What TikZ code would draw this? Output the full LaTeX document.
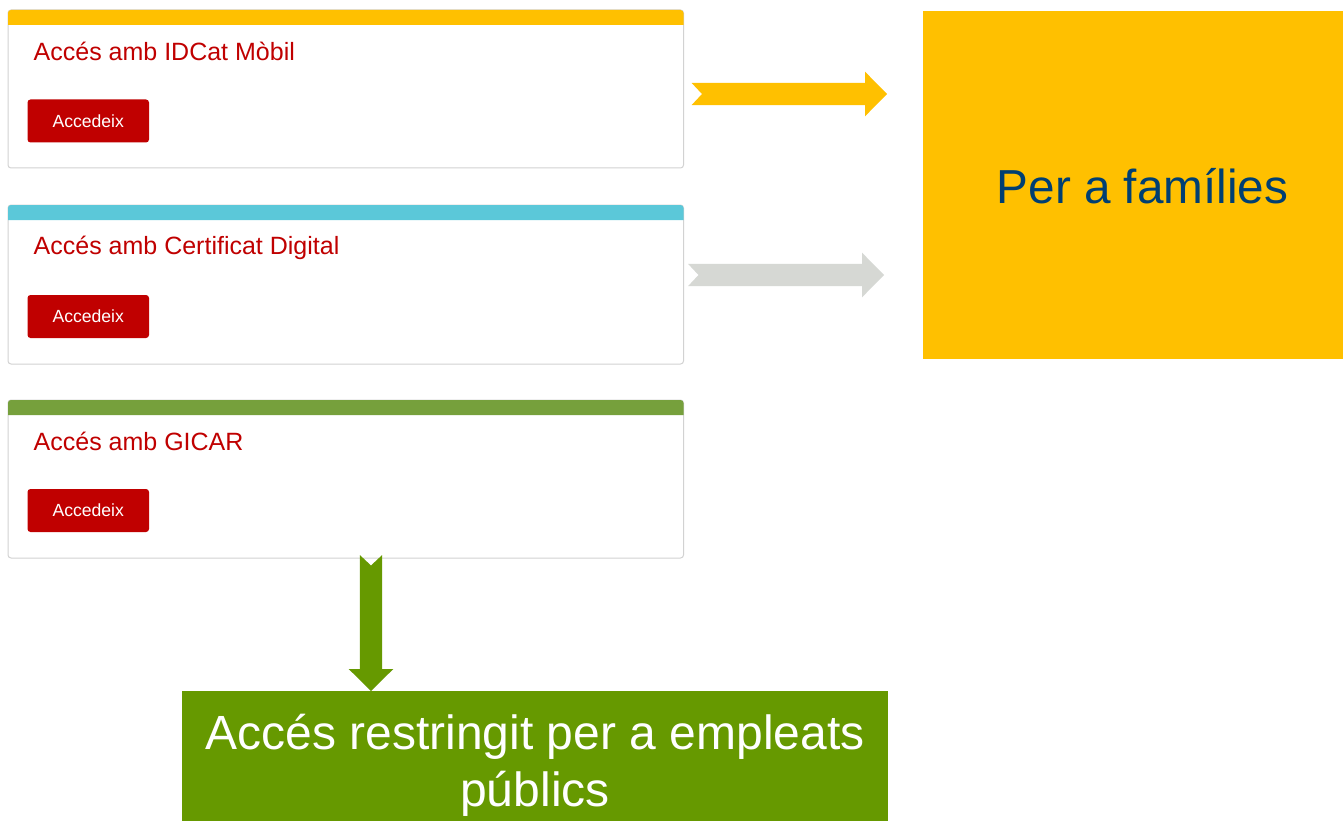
\documentclass[tikz,border=0pt]{standalone}
\usepackage{fontspec}
\setmainfont{Liberation Sans}
\definecolor{accred}{HTML}{C00000}
\definecolor{amber}{HTML}{FFC000}
\definecolor{teal}{HTML}{5BC8D9}
\definecolor{leaf}{HTML}{76A03C}
\definecolor{forest}{HTML}{669900}
\definecolor{stone}{HTML}{D6D8D4}
\definecolor{navy}{HTML}{003F72}
\definecolor{edge}{HTML}{D2D2D2}
\tikzset{
  cardbox/.style={draw=edge,line width=1pt,fill=white,rounded corners=3pt,minimum width=675.5pt,minimum height=158pt,anchor=north west,inner sep=0pt,outer sep=0pt},
  cardtitle/.style={text=accred,anchor=base west,inner sep=0pt,font=\fontsize{25}{30}\selectfont},
  btn/.style={fill=accred,text=white,rounded corners=3pt,minimum width=121.5pt,minimum height=43pt,anchor=north west,inner sep=0pt,outer sep=0pt,font=\fontsize{17.6}{20}\selectfont},
  bigbox/.style={anchor=north west,inner sep=0pt,outer sep=0pt},
}
% tail coordinate, length, rotation, colour
\newcommand{\blockarrow}[4]{%
  \begin{scope}[shift={(#1)},rotate=#3]
    \fill[#4] (0,-11.2) -- (10.5,0) -- (0,11.2) -- (#2-22,11.2) -- (#2-22,22.3) -- (#2,0) -- (#2-22,-22.3) -- (#2-22,-11.2) -- cycle;
  \end{scope}}
% name, top y, height, strip colour, title, button top y, title baseline y
\newcommand{\card}[7]{%
  \node[cardbox,minimum height=#3pt] (card#1) at (8,#2) {};
  \fill[#4,rounded corners=3pt] (8,#2+15) -- (8,#2) -- (683.5,#2) -- (683.5,#2+15);
  \node[cardtitle] (title#1) at (33.5,#7) {#5};
  \node[btn] (button#1) at (27.5,#6) {Accedeix};}
\begin{document}
\begin{tikzpicture}[x=1pt,y=-1pt]
\useasboundingbox (0,0) rectangle (1343,821);
\fill[white] (0,0) rectangle (1343,821);
\card{A}{10}{158}{amber}{Accés amb IDCat Mòbil}{99.5}{61}
\card{B}{205}{159}{teal}{Accés amb Certificat Digital}{295}{254.5}
\card{C}{400}{158}{leaf}{Accés amb GICAR}{489}{450}
\node[bigbox,fill=amber,minimum width=420pt,minimum height=348pt] (families) at (923,11) {};
\node[text=navy,inner sep=0pt,anchor=base,font=\fontsize{47.7}{55}\selectfont] (familieslabel) at (1142.5,204) {Per a famílies};
\node[bigbox,fill=forest,minimum width=706pt,minimum height=130pt] (restricted) at (182,691) {};
\node[text=white,inner sep=0pt,anchor=center,align=center,font=\fontsize{48}{57}\selectfont] (restrictedlabel) at (535,765) {Accés restringit per a empleats\\públics};
\coordinate (tailA) at (691.5,94);
\coordinate (tailB) at (688,275);
\coordinate (tailC) at (371,555);
\blockarrow{tailA}{195.5}{0}{amber}
\blockarrow{tailB}{196}{0}{stone}
\blockarrow{tailC}{136}{-90}{forest}
\end{tikzpicture}
\end{document}
